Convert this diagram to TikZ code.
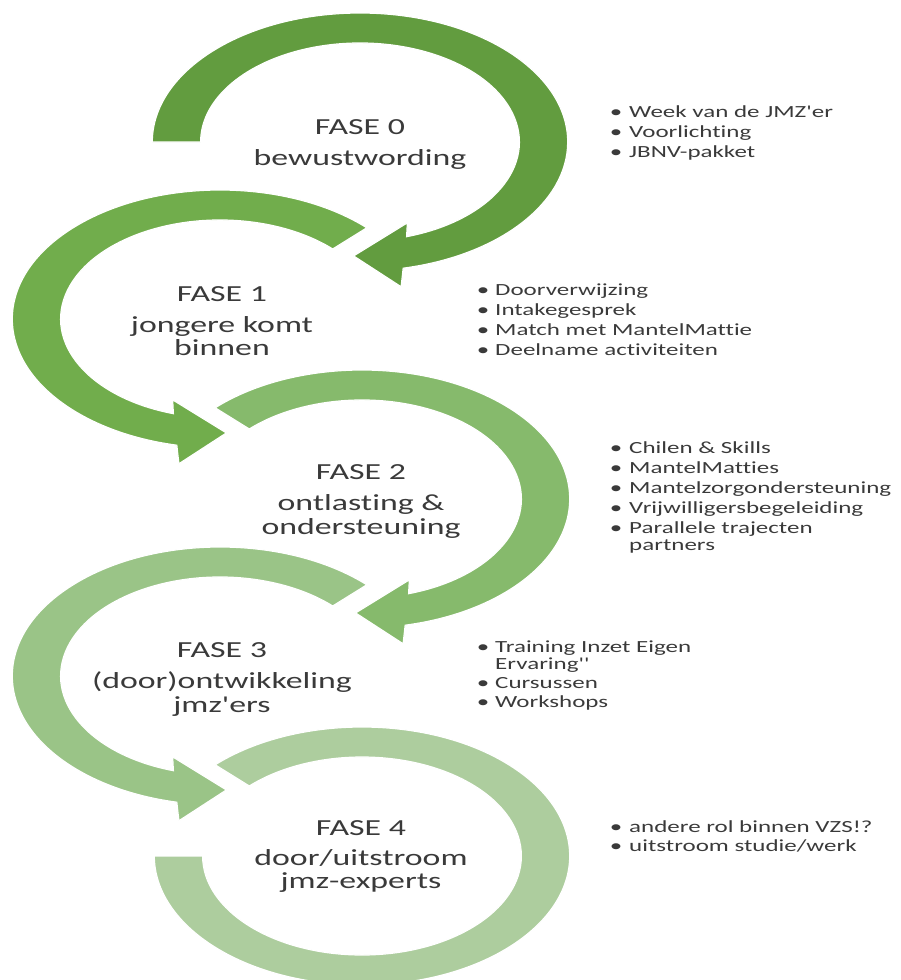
\documentclass[tikz,border=0pt]{standalone}
\usepackage{fontspec}
\newfontfamily\calfont{Carlito}[FakeStretch=1.47,Ligatures=NoCommon]
\definecolor{gA}{HTML}{629C3F}
\definecolor{gB}{HTML}{71AD4C}
\definecolor{gC}{HTML}{86BA6C}
\definecolor{gD}{HTML}{9AC487}
\definecolor{gE}{HTML}{ADCD9E}
\definecolor{txt}{HTML}{3A3A3A}
\begin{document}
\begin{tikzpicture}[x=1pt,y=1pt,
  band/.style={draw=white,line width=1.2pt},
  phase/.style={anchor=base,inner sep=0pt,font=\calfont\fontsize{23}{24}\selectfont,text=txt},
  item/.style={anchor=base west,inner sep=0pt,font=\calfont\fontsize{17}{18}\selectfont,text=txt},
  bul/.style={anchor=base,inner sep=0pt,font=\calfont\fontsize{17}{18}\selectfont,text=txt}]
\useasboundingbox (0,0) rectangle (900,-980);
\clip (0,0) rectangle (900,-980);

% ---- arc 0 (clockwise, arrow at bottom pointing left)
\begin{scope}[shift={(360,-142)},xscale=1.61]
\path[band,fill=gA] (180:129pt) arc[start angle=180,end angle=-78,radius=129pt]
  -- (-80:147pt) -- (-92:114pt) -- (-70:86pt) -- (-73:99pt)
  arc[start angle=-73,end angle=180,radius=99pt] -- cycle;
\end{scope}
% ---- arc 1 (counter-clockwise, arrow at bottom pointing right)
\begin{scope}[shift={(220,-319)},xscale=1.61]
\path[band,fill=gB] (45:129pt) arc[start angle=45,end angle=258,radius=129pt]
  -- (260:147pt) -- (272:114pt) -- (250:86pt) -- (253:99pt)
  arc[start angle=253,end angle=45,radius=99pt] -- cycle;
\end{scope}
% ---- arc 2
\begin{scope}[shift={(362,-499)},xscale=1.61]
\path[band,fill=gC] (135:129pt) arc[start angle=135,end angle=-78,radius=129pt]
  -- (-80:147pt) -- (-92:114pt) -- (-70:86pt) -- (-73:99pt)
  arc[start angle=-73,end angle=135,radius=99pt] -- cycle;
\end{scope}
% ---- arc 3
\begin{scope}[shift={(220,-676)},xscale=1.61]
\path[band,fill=gD] (45:129pt) arc[start angle=45,end angle=258,radius=129pt]
  -- (260:147pt) -- (272:114pt) -- (250:86pt) -- (253:99pt)
  arc[start angle=253,end angle=45,radius=99pt] -- cycle;
\end{scope}
% ---- arc 4 (no arrowhead)
\begin{scope}[shift={(362,-856)},xscale=1.61]
\path[band,fill=gE] (135:129pt) arc[start angle=135,end angle=-180,radius=129pt]
  -- (-180:99pt) arc[start angle=-180,end angle=135,radius=99pt] -- cycle;
\end{scope}

% ---- phase texts
\node[phase] (p0a) at (360,-134) {FASE 0};
\node[phase] (p0b) at (360,-165) {bewustwording};
\node[phase] (p1a) at (222,-301) {FASE 1};
\node[phase] (p1b) at (222,-332) {jongere komt};
\node[phase] (p1c) at (222,-355) {binnen};
\node[phase] (p2a) at (361,-479) {FASE 2};
\node[phase] (p2b) at (361,-510) {ontlasting \&};
\node[phase] (p2c) at (361,-534) {ondersteuning};
\node[phase] (p3a) at (222,-657) {FASE 3};
\node[phase] (p3b) at (222,-688) {(door)ontwikkeling};
\node[phase] (p3c) at (222,-712) {jmz'ers};
\node[phase] (p4a) at (361,-835) {FASE 4};
\node[phase] (p4b) at (361,-865) {door/uitstroom};
\node[phase] (p4c) at (361,-888) {jmz-experts};

% ---- list 0
\node[bul] (b01) at (616,-117) {•}; \node[item] (t01) at (629,-117) {Week van de JMZ'er};
\node[bul] (b02) at (616,-137) {•}; \node[item] (t02) at (629,-137) {Voorlichting};
\node[bul] (b03) at (616,-157) {•}; \node[item] (t03) at (629,-157) {JBNV-pakket};
% ---- list 1
\node[bul] (b11) at (483,-295) {•}; \node[item] (t11) at (495,-295) {Doorverwijzing};
\node[bul] (b12) at (483,-315) {•}; \node[item] (t12) at (495,-315) {Intakegesprek};
\node[bul] (b13) at (483,-335) {•}; \node[item] (t13) at (495,-335) {Match met MantelMattie};
\node[bul] (b14) at (483,-355) {•}; \node[item] (t14) at (495,-355) {Deelname activiteiten};
% ---- list 2
\node[bul] (b21) at (616,-453) {•}; \node[item] (t21) at (629,-453) {Chilen \& Skills};
\node[bul] (b22) at (616,-473) {•}; \node[item] (t22) at (629,-473) {MantelMatties};
\node[bul] (b23) at (616,-493) {•}; \node[item] (t23) at (629,-493) {Mantelzorgondersteuning};
\node[bul] (b24) at (616,-513) {•}; \node[item] (t24) at (629,-513) {Vrijwilligersbegeleiding};
\node[bul] (b25) at (616,-533) {•}; \node[item] (t25) at (629,-533) {Parallele trajecten};
\node[item] (t26) at (629,-550) {partners};
% ---- list 3
\node[bul] (b31) at (483,-652) {•}; \node[item] (t31) at (495,-652) {Training Inzet Eigen};
\node[item] (t32) at (495,-669) {Ervaring''};
\node[bul] (b33) at (483,-688) {•}; \node[item] (t33) at (495,-688) {Cursussen};
\node[bul] (b34) at (483,-707) {•}; \node[item] (t34) at (495,-707) {Workshops};
% ---- list 4
\node[bul] (b41) at (616,-832) {•}; \node[item] (t41) at (629,-832) {andere rol binnen VZS!?};
\node[bul] (b42) at (616,-851) {•}; \node[item] (t42) at (629,-851) {uitstroom studie/werk};
\end{tikzpicture}
\end{document}
